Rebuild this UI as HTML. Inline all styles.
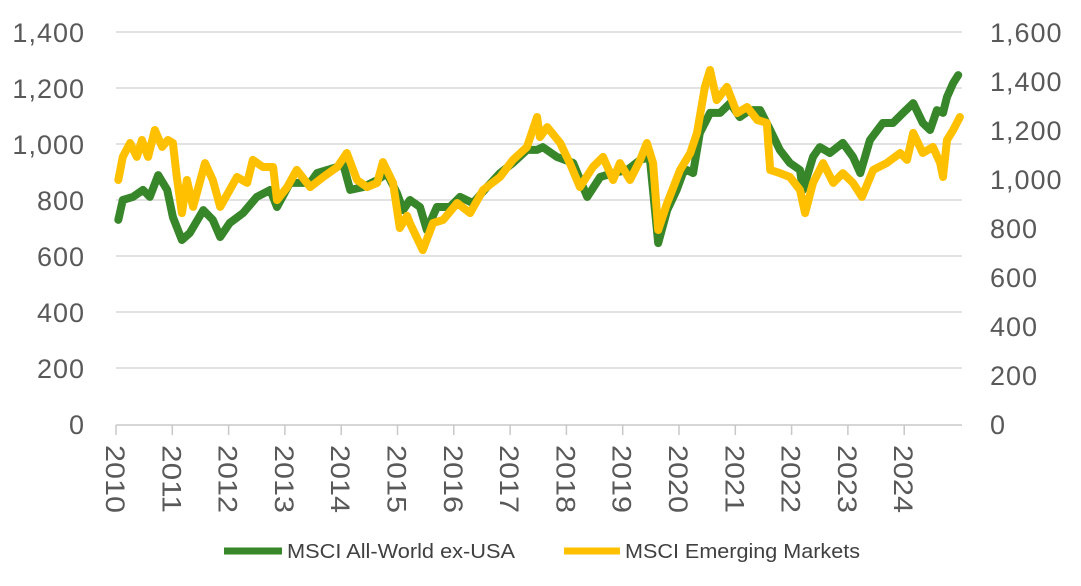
<!DOCTYPE html>
<html><head><meta charset="utf-8"><style>
html,body{margin:0;padding:0;background:#fff;}
svg{display:block;font-family:"Liberation Sans",sans-serif;}
</style></head><body>
<svg id="chart" width="1081" height="586" viewBox="0 0 1081 586">
<g id="grid"></g>
<g id="axes"></g>
<g id="series"></g>
<g>
 <line x1="224" y1="551" x2="282" y2="551" stroke="#38862A" stroke-width="7"/>
 <text x="287" y="558" font-size="20" fill="#404040" textLength="228" lengthAdjust="spacingAndGlyphs">MSCI All-World ex-USA</text>
 <line x1="564" y1="551" x2="620" y2="551" stroke="#FFC000" stroke-width="7"/>
 <text x="625" y="558" font-size="20" fill="#404040" textLength="235" lengthAdjust="spacingAndGlyphs">MSCI Emerging Markets</text>
</g>
</svg>
<script>
const years = [2010,2011,2012,2013,2014,2015,2016,2017,2018,2019,2020,2021,2022,2023,2024];
const leftTicks = [0,200,400,600,800,1000,1200,1400];
const rightTicks = [0,200,400,600,800,1000,1200,1400,1600];
const greenT = [.04,.12,.30,.48,.60,.75,.91,1.01,1.17,1.31,1.55,1.72,1.85,2.02,2.26,2.50,2.74,2.86,3.09,3.45,3.57,3.93,4.03,4.16,4.39,4.64,4.81,4.99,5.10,5.22,5.40,5.52,5.70,5.93,6.11,6.34,6.59,6.82,7.05,7.30,7.48,7.58,7.83,8.12,8.37,8.60,8.83,9.08,9.31,9.48,9.63,9.79,9.96,10.07,10.14,10.25,10.37,10.55,10.73,10.91,11.08,11.26,11.44,11.62,11.79,11.97,12.15,12.20,12.38,12.50,12.68,12.91,13.09,13.22,13.39,13.62,13.80,13.98,14.16,14.33,14.46,14.58,14.69,14.76,14.87,14.96];
const greenV = [729,800,811,836,811,889,836,739,657,682,764,729,668,718,754,811,836,775,861,861,896,918,932,836,846,871,896,825,764,800,775,693,775,775,811,789,846,896,932,979,979,989,954,932,811,882,896,907,943,954,646,764,836,896,907,896,1039,1111,1111,1146,1096,1121,1121,1050,979,932,907,836,954,989,968,1004,954,896,1014,1075,1075,1111,1146,1075,1050,1121,1111,1168,1218,1246];
const yellowT = [.04,.12,.25,.37,.46,.57,.69,.82,.92,1.01,1.08,1.17,1.26,1.37,1.58,1.72,1.85,2.02,2.15,2.33,2.43,2.61,2.79,2.86,3.04,3.21,3.45,3.68,3.93,4.10,4.28,4.46,4.64,4.74,4.92,5.04,5.17,5.22,5.45,5.63,5.81,6.06,6.29,6.52,6.82,7.05,7.30,7.48,7.53,7.66,7.89,8.06,8.24,8.47,8.65,8.83,8.95,9.13,9.31,9.43,9.54,9.63,9.79,10.02,10.20,10.32,10.46,10.55,10.67,10.85,11.03,11.21,11.39,11.56,11.62,11.79,11.97,12.15,12.24,12.38,12.56,12.74,12.91,13.09,13.25,13.45,13.69,13.93,14.05,14.16,14.33,14.51,14.64,14.69,14.76,14.87,14.99];
const yellowV = [996,1090,1147,1090,1159,1090,1200,1131,1159,1147,1008,861,996,886,1065,996,886,955,1008,984,1078,1049,1049,914,967,1037,967,1008,1049,1106,996,967,984,1069,984,800,850,820,710,820,833,902,861,955,1008,1078,1131,1253,1171,1212,1147,1065,967,1049,1090,996,1065,996,1078,1147,1065,792,902,1037,1106,1188,1376,1445,1322,1376,1269,1294,1241,1229,1037,1024,1008,955,861,984,1065,984,1024,984,927,1037,1065,1106,1078,1188,1106,1131,1065,1008,1159,1200,1253];

const NS='http://www.w3.org/2000/svg';
const X0=116, X1=962, Y0=424;
function x(t){return X0+56.3*t;}
function yL(v){return Y0-v*0.28;}
function yR(v){return Y0-v*0.245;}
function mk(tag,attrs,parent){const e=document.createElementNS(NS,tag);for(const k in attrs)e.setAttribute(k,attrs[k]);parent.appendChild(e);return e;}
const grid=document.getElementById('grid'), axes=document.getElementById('axes'), series=document.getElementById('series');
const fmt=v=>v.toLocaleString('en-US');
leftTicks.forEach(v=>{
  if(v>0){const g=mk('line',{x1:X0,x2:X1,y1:yL(v),y2:yL(v),stroke:'#d9d9d9','stroke-width':1.5},grid);
  
  }
  const t=mk('text',{x:85,y:yL(v)+10,'text-anchor':'end','font-size':27,'letter-spacing':1,fill:'#595959'},axes);
  t.textContent=fmt(v);
  
  
});
rightTicks.forEach(v=>{
  const t=mk('text',{x:990,y:yR(v)+10,'text-anchor':'start','font-size':27,'letter-spacing':1,fill:'#595959'},axes);
  t.textContent=fmt(v);
  
  
});
const ax=mk('line',{x1:X0,x2:X1,y1:Y0+1,y2:Y0+1,stroke:'#c8c8c8','stroke-width':1.5},axes);


years.forEach((yr,i)=>{
  const xx=x(i);
  const tk=mk('line',{x1:xx,x2:xx,y1:Y0+1,y2:Y0+11,stroke:'#c8c8c8','stroke-width':1.5},axes);
  
  
  const t=mk('text',{x:0,y:0,'font-size':27,fill:'#595959',textLength:68,lengthAdjust:'spacingAndGlyphs',transform:`translate(${xx-10},445) rotate(90)`},axes);
  t.textContent=yr;
  
  
});
function path(ts,vs,yf){return ts.map((t,i)=>(i?'L':'M')+x(t).toFixed(1)+','+yf(vs[i]).toFixed(1)).join('');}
const pg=mk('path',{d:path(greenT,greenV,yL),fill:'none',stroke:'#38862A','stroke-width':8,'stroke-linejoin':'round','stroke-linecap':'round'},series);


const py=mk('path',{d:path(yellowT,yellowV,yR),fill:'none',stroke:'#FFC000','stroke-width':8,'stroke-linejoin':'round','stroke-linecap':'round'},series);


</script>
</body></html>
